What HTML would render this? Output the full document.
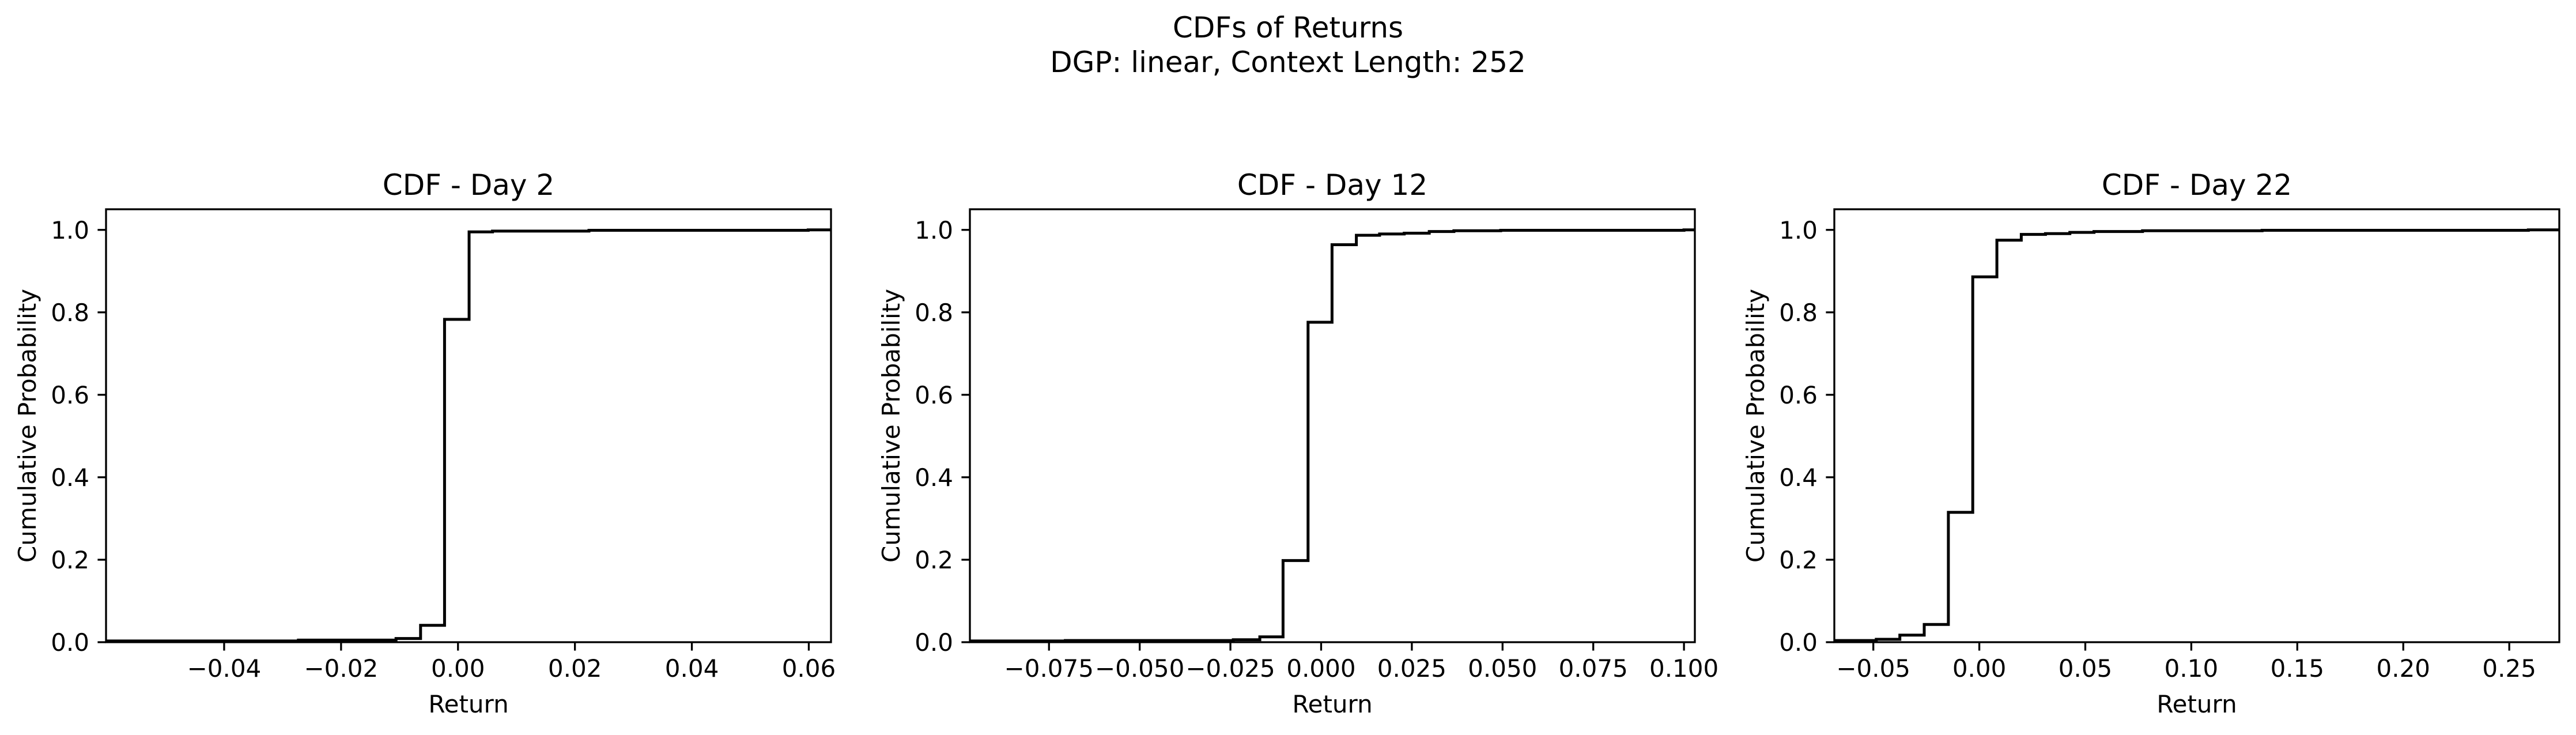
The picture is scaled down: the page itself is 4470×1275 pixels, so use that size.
<!DOCTYPE html>
<html><head><meta charset="utf-8"><style>
html,body{margin:0;padding:0;background:#fff}
svg{display:block;font-family:"DejaVu Sans","Liberation Sans",sans-serif}
</style></head><body>
<svg id="fig" width="4470" height="1275" viewBox="0 0 4470 1275" xmlns="http://www.w3.org/2000/svg">
<rect width="4470" height="1275" fill="#fff"/>
<text x="2235" y="65" text-anchor="middle" font-size="50">CDFs of Returns</text>
<text x="2235" y="125" text-anchor="middle" font-size="50">DGP: linear, Context Length: 252</text>
</svg>
<script>
const titles = ["CDF - Day 2", "CDF - Day 12", "CDF - Day 22"];
const xLims = [[-0.0602, 0.0638], [-0.0968, 0.1030], [-0.0684, 0.2736]];
const yLim = [0, 1.05];
const yTicks = [0, 0.2, 0.4, 0.6, 0.8, 1.0];
const yTickLabels = ["0.0", "0.2", "0.4", "0.6", "0.8", "1.0"];
const xTicks1 = [-0.04, -0.02, 0, 0.02, 0.04, 0.06];
const xTickLabels1 = ["\u22120.04", "\u22120.02", "0.00", "0.02", "0.04", "0.06"];
const xTicks2 = [-0.075, -0.05, -0.025, 0, 0.025, 0.05, 0.075, 0.1];
const xTickLabels2 = ["\u22120.075", "\u22120.050", "\u22120.025", "0.000", "0.025", "0.050", "0.075", "0.100"];
const xTicks3 = [-0.05, 0, 0.05, 0.1, 0.15, 0.2, 0.25];
const xTickLabels3 = ["\u22120.05", "0.00", "0.05", "0.10", "0.15", "0.20", "0.25"];
const breaks1 = [-0.0602, -0.0273, -0.0106, -0.0064, -0.0023, 0.0019, 0.0059, 0.0224, 0.0599];
const probs1 = [0.003, 0.005, 0.009, 0.041, 0.783, 0.995, 0.997, 0.999, 1.0];
const breaks2 = [-0.0968, -0.0705, -0.0242, -0.0169, -0.0105, -0.0036, 0.0030, 0.0097, 0.0161, 0.0229, 0.0298, 0.0366, 0.0495, 0.1000];
const probs2 = [0.003, 0.004, 0.006, 0.013, 0.198, 0.776, 0.964, 0.987, 0.990, 0.992, 0.996, 0.998, 0.999, 1.0];
const breaks3 = [-0.0684, -0.0486, -0.0375, -0.0260, -0.0146, -0.0031, 0.0083, 0.0198, 0.0312, 0.0427, 0.0541, 0.0770, 0.1334, 0.2590];
const probs3 = [0.004, 0.007, 0.017, 0.043, 0.315, 0.886, 0.975, 0.989, 0.991, 0.994, 0.996, 0.998, 0.999, 1.0];

const NS = "http://www.w3.org/2000/svg";
const svg = document.getElementById("fig");
const lefts = [184, 1683, 3183];
const W = 1258, TOP = 363, BOT = 1114, H = BOT - TOP;
const allTicks = [xTicks1, xTicks2, xTicks3];
const allTickLabels = [xTickLabels1, xTickLabels2, xTickLabels3];
const allBreaks = [breaks1, breaks2, breaks3];
const allProbs = [probs1, probs2, probs3];

function mk(tag, attrs, parent) {
  const e = document.createElementNS(NS, tag);
  for (const k in attrs) e.setAttribute(k, attrs[k]);
  (parent || svg).appendChild(e);
  return e;
}

for (let p = 0; p < 3; p++) {
  const L = lefts[p], R = L + W;
  const [x0, x1] = xLims[p];
  const sx = v => L + (v - x0) / (x1 - x0) * W;
  const sy = v => BOT - (v - yLim[0]) / (yLim[1] - yLim[0]) * H;
  const g = mk("g", {});
  
  

  // step line
  const br = allBreaks[p], pr = allProbs[p];
  let d = "M" + sx(br[0]).toFixed(1) + "," + sy(pr[0]).toFixed(1);
  for (let i = 1; i < br.length; i++) {
    d += " H" + sx(br[i]).toFixed(1) + " V" + sy(pr[i]).toFixed(1);
  }
  d += " H" + R;
  const cp = mk("clipPath", {id: "clip" + p}, g);
  mk("rect", {x: L, y: TOP, width: W, height: H}, cp);
  const path = mk("path", {d: d, fill: "none", stroke: "#000", "stroke-width": 5, "clip-path": "url(#clip" + p + ")"}, g);
  
  

  // spines
  const frame = mk("rect", {x: L, y: TOP, width: W, height: H, fill: "none", stroke: "#000", "stroke-width": 3.3}, g);
  
  

  // y ticks
  yTicks.forEach((t, i) => {
    const y = sy(t);
    mk("line", {x1: L - 14.6, x2: L, y1: y, y2: y, stroke: "#000", "stroke-width": 3.3}, g);
    const tx = mk("text", {x: L - 29, y: y + 15, "text-anchor": "end", "font-size": 42}, g);
    tx.textContent = yTickLabels[i];
    
    
  });
  // x ticks
  allTicks[p].forEach((t, i) => {
    const x = sx(t);
    mk("line", {x1: x, x2: x, y1: BOT, y2: BOT + 14.6, stroke: "#000", "stroke-width": 3.3}, g);
    const tx = mk("text", {x: x, y: BOT + 60, "text-anchor": "middle", "font-size": 42}, g);
    tx.textContent = allTickLabels[p][i];
    
    
  });
  // title
  const ti = mk("text", {x: L + W / 2, y: 338, "text-anchor": "middle", "font-size": 50}, g);
  ti.textContent = titles[p];
  
  
  // x label
  const xl = mk("text", {x: L + W / 2, y: 1236, "text-anchor": "middle", "font-size": 42}, g);
  xl.textContent = "Return";
  
  
  // y label
  const yx = L - 122, yy = TOP + H / 2;
  const yl = mk("text", {x: yx, y: yy, "text-anchor": "middle", "font-size": 42, transform: "rotate(-90 " + yx + " " + yy + ")"}, g);
  yl.textContent = "Cumulative Probability";
  
  
}
</script>
</body></html>
